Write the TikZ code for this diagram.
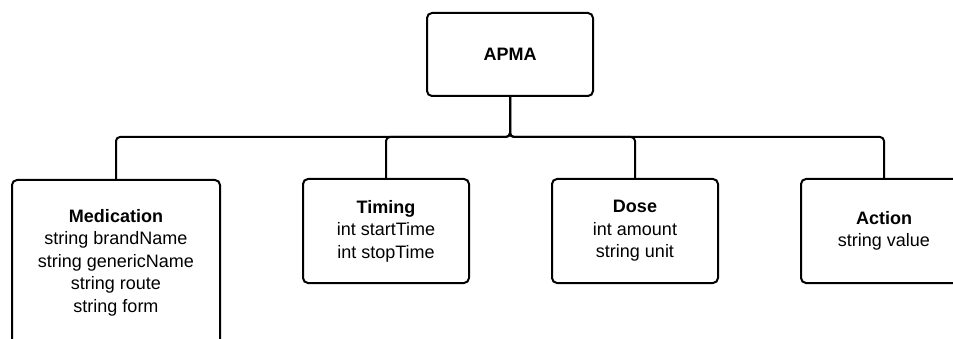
\documentclass[tikz,border=0pt]{standalone}
\usepackage{fontspec}
\setmainfont{Liberation Sans}
\begin{document}
\begin{tikzpicture}[x=1pt,y=-1pt,
  box/.style={draw,line width=2pt,rounded corners=5pt,align=center,inner sep=0pt,
    font=\fontsize{18}{22.5}\selectfont},
  conn/.style={line width=2pt,rounded corners=4pt}]
\clip (0,0) rectangle (953,339);
\fill[white] (0,0) rectangle (953,339);
\node[box,minimum width=166pt,minimum height=83pt] (apma) at (510,54.5) {\textbf{APMA}};
\node[box,minimum width=208pt,minimum height=165pt] (med) at (116,262.5)
  {\textbf{Medication}\\string brandName\\string genericName\\string route\\string form};
\node[box,minimum width=166pt,minimum height=104pt] (tim) at (386,231)
  {\textbf{Timing}\\int startTime\\int stopTime};
\node[box,minimum width=166pt,minimum height=104pt] (dose) at (635,231)
  {\textbf{Dose}\\int amount\\string unit};
\node[box,minimum width=166pt,minimum height=104pt] (act) at (884,231)
  {\textbf{Action}\\string value};
\coordinate (bus) at (510,137);
\draw[conn] (apma.south) -- (bus) -| (med.north);
\draw[conn] (apma.south) -- (bus) -| (tim.north);
\draw[conn] (apma.south) -- (bus) -| (dose.north);
\draw[conn] (apma.south) -- (bus) -| (act.north);
\end{tikzpicture}
\end{document}
